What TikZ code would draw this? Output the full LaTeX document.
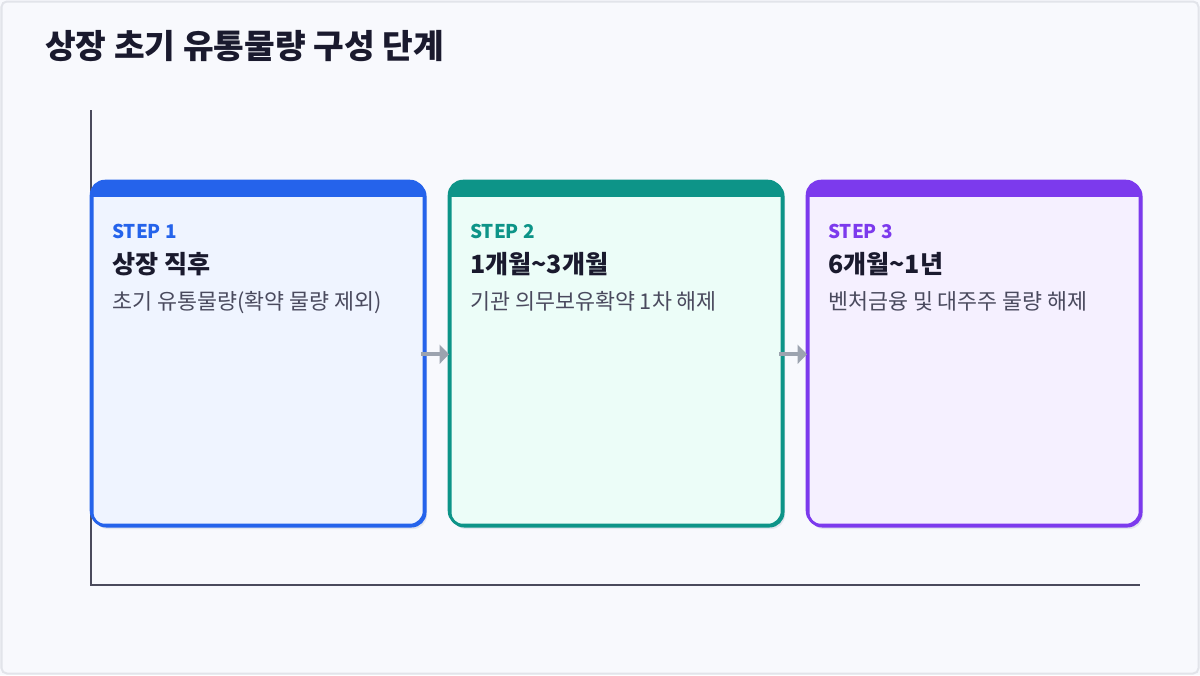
\documentclass[tikz,border=0pt]{standalone}
\usepackage{fontspec}
\setmainfont{Noto Sans CJK KR}
\usetikzlibrary{arrows.meta}
\definecolor{bgc}{HTML}{F8F9FD}
\definecolor{framec}{HTML}{E2E4EA}
\definecolor{ink}{HTML}{1A1A2E}
\definecolor{descc}{HTML}{4A4A5E}
\definecolor{axisc}{HTML}{4B4B5C}
\definecolor{shadowc}{HTML}{E3E6EE}
\definecolor{arrowc}{HTML}{9CA3AF}
\definecolor{cA}{HTML}{2563EB}\definecolor{fA}{HTML}{EFF4FF}
\definecolor{cB}{HTML}{0D9488}\definecolor{fB}{HTML}{ECFDF8}
\definecolor{cC}{HTML}{7C3AED}\definecolor{fC}{HTML}{F5F0FF}
\tikzset{
  stepcard/.style={draw=#1, line width=1.9pt, rounded corners=10.5pt, minimum width=249.75pt, minimum height=258pt, inner sep=0, anchor=north west},
  steplabel/.style={text=#1, font=\fontsize{14.2}{16}\selectfont\bfseries, anchor=base west, inner sep=0},
  steptitle/.style={text=ink, font=\fontsize{18.8}{21}\selectfont\bfseries, anchor=base west, inner sep=0},
  stepdesc/.style={text=descc, font=\fontsize{16.3}{19}\selectfont, anchor=base west, inner sep=0},
  flow/.style={draw=arrowc, line width=3pt, -{Triangle[length=7pt,width=14pt]}},
}
\begin{document}
\begin{tikzpicture}[x=0.75pt,y=-0.75pt]
\useasboundingbox (0,0) rectangle (1200,675);
\fill[bgc] (0,0) rectangle (1200,675);
\draw[framec, line width=1.5pt, rounded corners=4pt] (1.5,1.5) rectangle (1198.5,673.5);
\node[text=ink, font=\fontsize{25}{29}\selectfont\bfseries, anchor=base west, inner sep=0] (title) at (45,58) {상장 초기 유통물량 구성 단계};
% axes
\coordinate (ytop) at (91,110);
\coordinate (orig) at (91,585);
\coordinate (xend) at (1140,585);
\draw[axisc, line width=1.1pt] (ytop) -- (orig) -- (xend);
% cards
\foreach \n/\x/\c/\f/\s/\t/\d in {1/91/cA/fA/STEP 1/상장 직후/초기 유통물량(확약 물량 제외),
  2/449/cB/fB/STEP 2/1개월\textasciitilde3개월/기관 의무보유확약 1차 해제,
  3/807/cC/fC/STEP 3/6개월\textasciitilde1년/벤처금융 및 대주주 물량 해제}{
  \fill[shadowc, rounded corners=10.5pt] (\x+3,185) rectangle (\x+336,529);
  \node[stepcard=\c, fill=\f] (b\n) at (\x,181) {};
  \begin{scope}
    \clip[rounded corners=10.5pt] (\x,181) rectangle (\x+333,525);
    \fill[\c] (\x-2,179) rectangle (\x+335,197);
  \end{scope}
  \draw[\c, line width=1.9pt, rounded corners=10.5pt] (\x,181) rectangle (\x+333,525);
  \node[steplabel=\c] (s\n) at (\x+21,238) {\s};
  \node[steptitle] (t\n) at (\x+21,273) {\t};
  \node[stepdesc] (d\n) at (\x+21,309) {\d};
}
\draw[flow] ([xshift=-4pt]b1.east) -- (b2.west);
\draw[flow] ([xshift=-4pt]b2.east) -- (b3.west);
\end{tikzpicture}
\end{document}
